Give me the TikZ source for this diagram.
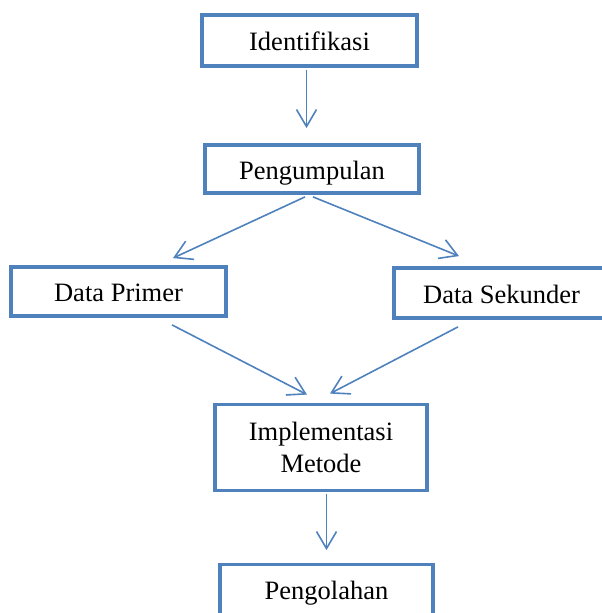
\documentclass[tikz,border=0pt]{standalone}
\usepackage{fontspec}
\setmainfont{Liberation Serif}
\usetikzlibrary{arrows.meta}
\definecolor{ofblue}{HTML}{4F81BD}
\tikzset{
  box/.style={draw=ofblue, line width=3.8pt, rectangle, inner sep=0pt,
    font=\fontsize{26.5}{31.5}\selectfont, text=black},
  one/.style={text height=20pt, text depth=0pt},
  arr/.style={draw=ofblue, line width=1.6pt,
    -{Straight Barb[length=17pt, width=20pt]}}
}
\begin{document}
\begin{tikzpicture}[x=1pt,y=-1pt]
\useasboundingbox (0,0) rectangle (602,613);
\clip (0,0) rectangle (602,613);
\node[box,one,minimum width=215pt,minimum height=51pt] (id) at (309.5,40.5) {Identifikasi};
\node[box,one,minimum width=214pt,minimum height=48pt] (pg) at (312,169) {Pengumpulan};
\node[box,one,minimum width=215pt,minimum height=49pt] (dp) at (118.5,291.5) {Data Primer};
\node[box,one,minimum width=215pt,minimum height=50pt] (ds) at (501.5,293) {Data Sekunder};
\node[box,minimum width=212pt,minimum height=86pt,align=center,yshift=1.5pt] (im) at (321,449) {Implementasi\\Metode};
\node[box,one,minimum width=213pt,minimum height=50pt] (pl) at (326.5,589.5) {Pengolahan};

\draw[arr] ([xshift=-3pt,yshift=-2pt]id.south) -- ([xshift=-3pt,yshift=15pt]id.south |- pg.north);
\draw[arr] ([xshift=-7pt,yshift=-2pt]pg.south) -- ([xshift=54.5pt,yshift=7pt]dp.north);
\draw[arr] ([xshift=1pt,yshift=-2pt]pg.south) -- ([xshift=-42.5pt,yshift=10pt]ds.north);
\draw[arr] ([xshift=53.5pt,yshift=-7pt]dp.south) -- ([xshift=-14pt,yshift=8pt]im.north);
\draw[arr] ([xshift=-43.5pt,yshift=-7pt]ds.south) -- ([xshift=9pt,yshift=9pt]im.north);
\draw[arr] ([yshift=-2pt]im.south -| pl.north) -- ([yshift=12.5pt]pl.north);
\end{tikzpicture}
\end{document}
